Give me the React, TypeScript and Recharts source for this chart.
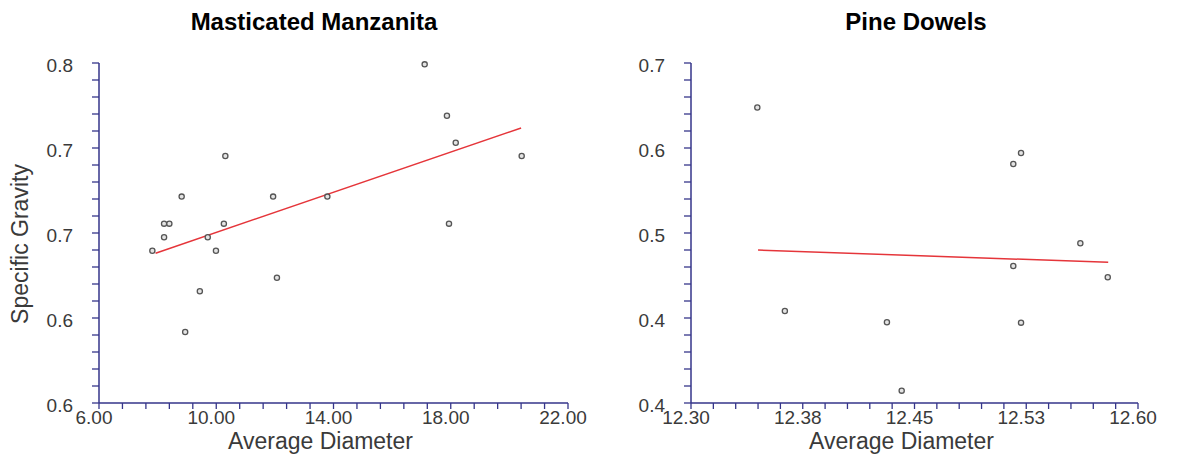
import * as React from "react"
import { Scatter, ScatterChart, XAxis, YAxis } from "recharts"

// Masticated Manzanita
const manzanitaDiameter = [
  7.82, 8.22, 8.22, 8.4, 8.82, 9.71, 9.99, 10.26, 10.31, 9.44, 8.94, 11.94, 12.07, 13.79, 17.11,
  17.87, 18.17, 17.94, 20.42,
]
const manzanitaGravity = [
  0.6896, 0.6975, 0.7055, 0.7055, 0.7214, 0.6975, 0.6896, 0.7055, 0.7453, 0.6657, 0.6418, 0.7214,
  0.6737, 0.7214, 0.7992, 0.769, 0.7531, 0.7055, 0.7453,
]
const manzanitaTrendX = [7.93, 20.4]
const manzanitaTrendY = [0.6881, 0.7618]
const manzanitaXLabels = ["6.00", "10.00", "14.00", "18.00", "22.00"]
const manzanitaYLabels = ["0.6", "0.6", "0.7", "0.7", "0.8"]

// Pine Dowels
const pineDiameter = [
  12.3445, 12.363, 12.4315, 12.4414, 12.5215, 12.5163, 12.5613, 12.5163, 12.5797, 12.5215,
]
const pineGravity = [0.6607, 0.4812, 0.4712, 0.4109, 0.6206, 0.6109, 0.5409, 0.5209, 0.5109, 0.4709]
const pineTrendX = [12.345, 12.58]
const pineTrendY = [0.535, 0.5241]
const pineXLabels = ["12.30", "12.38", "12.45", "12.53", "12.60"]
const pineYLabels = ["0.4", "0.4", "0.5", "0.6", "0.7"]

const AXIS = "#35358a"
const TEXT = "#3a3a3a"
const FONT = "'Liberation Sans', Arial, sans-serif"

const zip = (xs: number[], ys: number[]) => xs.map((x, i) => ({ x, y: ys[i] }))
const tickRange = (lo: number, hi: number) =>
  Array.from({ length: 21 }, (_, i) => lo + ((hi - lo) * i) / 20)

const Dot = (props: any) => (
  <circle cx={props.cx} cy={props.cy} r={2.6} fill="#e4e4e4" stroke="#555" strokeWidth={1.3} />
)

interface PanelProps {
  title: string
  width: number
  yAxisWidth: number
  rightMargin: number
  xDomain: [number, number]
  yDomain: [number, number]
  xLabels: string[]
  yLabels: string[]
  points: { x: number; y: number }[]
  trend: { x: number; y: number }[]
  titleX: number
  showYLabel?: boolean
}

function Panel(p: PanelProps) {
  const xTicks = tickRange(p.xDomain[0], p.xDomain[1])
  const yTicks = tickRange(p.yDomain[0], p.yDomain[1])

  const xTick = (t: any) =>
    t.index % 5 === 0 ? (
      <text x={t.x} y={t.y} dx={-5} dy={13} textAnchor="middle" fontSize={19} fill={TEXT} fontFamily={FONT}>
        {p.xLabels[t.index / 5]}
      </text>
    ) : (
      <g />
    )
  const yTick = (t: any) =>
    t.index % 5 === 0 ? (
      <text x={t.x} y={t.y} dx={-17} dy={9} textAnchor="end" fontSize={19} fill={TEXT} fontFamily={FONT}>
        {p.yLabels[t.index / 5]}
      </text>
    ) : (
      <g />
    )

  const plotLeft = p.yAxisWidth
  const plotRight = p.width - p.rightMargin
  return (
    <div style={{ position: "relative", width: p.width, height: 464 }}>
      <div
        style={{
          position: "absolute",
          top: 8,
          left: p.titleX - 200,
          width: 400,
          textAlign: "center",
          fontSize: 24,
          fontWeight: "bold",
          fontFamily: FONT,
          color: "#000",
        }}
      >
        {p.title}
      </div>
      <ScatterChart width={p.width} height={464} margin={{ top: 63, right: p.rightMargin, bottom: 0, left: 0 }}>
        <XAxis
          type="number"
          dataKey="x"
          domain={p.xDomain}
          ticks={xTicks}
          interval={0}
          height={61}
          tickSize={6}
          axisLine={{ stroke: AXIS, strokeWidth: 1.5 }}
          tickLine={{ stroke: AXIS, strokeWidth: 1.3 }}
          tick={xTick}
        />
        <YAxis
          type="number"
          dataKey="y"
          domain={p.yDomain}
          ticks={yTicks}
          interval={0}
          width={p.yAxisWidth}
          tickSize={7}
          axisLine={{ stroke: AXIS, strokeWidth: 1.5 }}
          tickLine={{ stroke: AXIS, strokeWidth: 1.3 }}
          tick={yTick}
        />
        <Scatter
          data={p.trend}
          line={{ stroke: "#e5353a", strokeWidth: 1.5 }}
          shape={() => <g />}
          isAnimationActive={false}
        />
        <Scatter data={p.points} shape={Dot} isAnimationActive={false} />
      </ScatterChart>
      <div
        style={{
          position: "absolute",
          top: 428,
          left: (plotLeft + plotRight) / 2 - 13 - 150,
          width: 300,
          textAlign: "center",
          fontSize: 23,
          fontFamily: FONT,
          color: TEXT,
        }}
      >
        Average Diameter
      </div>
      {p.showYLabel && (
        <svg style={{ position: "absolute", left: 0, top: 0 }} width={40} height={464}>
          <text
            x={28}
            y={244}
            transform="rotate(-90 28 244)"
            textAnchor="middle"
            fontSize={23}
            fill={TEXT}
            fontFamily={FONT}
          >
            Specific Gravity
          </text>
        </svg>
      )}
    </div>
  )
}

export default function App() {
  return (
    <div
      style={{
        position: "absolute",
        left: 0,
        top: 0,
        width: 1190,
        height: 464,
        background: "#fff",
        display: "flex",
      }}
    >
      <Panel
        title="Masticated Manzanita"
        width={600}
        yAxisWidth={99}
        rightMargin={32}
        xDomain={[6, 22]}
        yDomain={[0.6, 0.8]}
        xLabels={manzanitaXLabels}
        yLabels={manzanitaYLabels}
        points={zip(manzanitaDiameter, manzanitaGravity)}
        trend={zip(manzanitaTrendX, manzanitaTrendY)}
        titleX={314}
        showYLabel
      />
      <Panel
        title="Pine Dowels"
        width={590}
        yAxisWidth={91}
        rightMargin={52}
        xDomain={[12.3, 12.6]}
        yDomain={[0.4, 0.7]}
        xLabels={pineXLabels}
        yLabels={pineYLabels}
        points={zip(pineDiameter, pineGravity)}
        trend={zip(pineTrendX, pineTrendY)}
        titleX={316}
      />
    </div>
  )
}
